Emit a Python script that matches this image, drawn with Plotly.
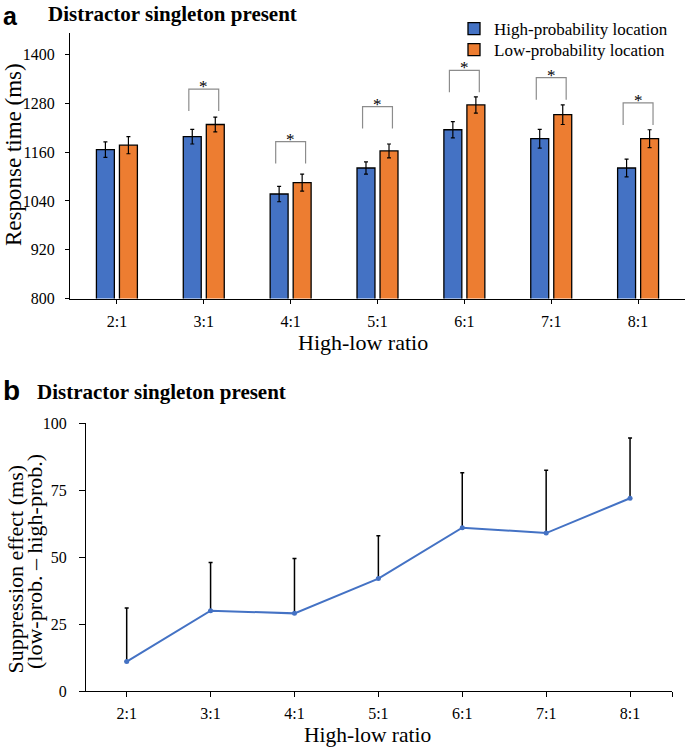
import plotly.graph_objects as go

# ---------------- data ----------------
ratios = ["2:1", "3:1", "4:1", "5:1", "6:1", "7:1", "8:1"]
rt_high = [1166, 1198, 1057, 1121, 1215, 1193, 1121]
rt_high_err = [19, 18, 19, 15, 20, 23, 22]
rt_low = [1177, 1228, 1085, 1163, 1276, 1252, 1193]
rt_low_err = [21, 18, 21, 17, 20, 24, 22]
sig_bracket_top = [None, 1315, 1186, 1272, 1361, 1343, 1281]
suppression = [11, 30, 29, 42, 61, 59, 72]
suppression_err = [20, 18, 20.5, 16, 20.5, 23.5, 22.5]

SERIF = "Liberation Serif, Times New Roman, serif"
SANS = "Liberation Sans, Arial, sans-serif"
BLUE = "#4472C4"
ORANGE = "#ED7D31"
W, H = 685, 749

idx = list(range(len(ratios)))


def px_x(p):
    return p / W


def px_y(p):
    return (H - p) / H


fig = go.Figure()

# ---------------- panel a: bars ----------------
fig.add_trace(go.Bar(
    x=idx, y=rt_high, name="High-probability location", legend="legend",
    marker=dict(color=BLUE, line=dict(color="black", width=1.3)),
    error_y=dict(type="data", array=rt_high_err, color="black", thickness=1.2, width=2),
    xaxis="x", yaxis="y",
))
fig.add_trace(go.Bar(
    x=idx, y=rt_low, name="Low-probability location", legend="legend2",
    marker=dict(color=ORANGE, line=dict(color="black", width=1.3)),
    error_y=dict(type="data", array=rt_low_err, color="black", thickness=1.2, width=2),
    xaxis="x", yaxis="y",
))

# significance brackets
LEG = 54
HALF = 0.172
bx, by = [], []
for i, top in enumerate(sig_bracket_top):
    if top is None:
        continue
    bx += [i - HALF, i - HALF, i + HALF, i + HALF, None]
    by += [top - LEG, top, top, top - LEG, None]
fig.add_trace(go.Scatter(
    x=bx, y=by, mode="lines", line=dict(color="#8c8c8c", width=1.2),
    showlegend=False, hoverinfo="skip", xaxis="x", yaxis="y",
))

annotations = []
for i, top in enumerate(sig_bracket_top):
    if top is None:
        continue
    annotations.append(dict(
        x=i, y=top, xref="x", yref="y", text="*", showarrow=False,
        yanchor="bottom", yshift=-9, font=dict(family=SERIF, size=17, color="black"),
    ))

# ---------------- panel b: line ----------------
fig.add_trace(go.Scatter(
    x=idx, y=suppression, mode="lines+markers",
    line=dict(color=BLUE, width=2), marker=dict(color=BLUE, size=5),
    error_y=dict(type="data", symmetric=False, array=suppression_err,
                 arrayminus=[0] * len(suppression), color="black", thickness=1.5, width=2),
    showlegend=False, xaxis="x2", yaxis="y2",
))

tickfont = dict(family=SERIF, size=16, color="black")
legfont = dict(family=SERIF, size=17, color="black")

fig.update_layout(
    width=W, height=H,
    margin=dict(l=0, r=0, t=0, b=0, autoexpand=False),
    paper_bgcolor="white", plot_bgcolor="white",
    barmode="group", bargap=0.47, bargroupgap=0.22,
    font=dict(family=SERIF, color="black"),
    showlegend=True,
    legend=dict(
        x=px_x(454), y=px_y(11), xanchor="left", yanchor="top",
        font=legfont, bgcolor="rgba(0,0,0,0)",
    ),
    legend2=dict(
        x=px_x(454), y=px_y(32), xanchor="left", yanchor="top",
        font=legfont, bgcolor="rgba(0,0,0,0)",
    ),
    xaxis=dict(
        domain=[px_x(70), 1.0], range=[-0.54, 6.54], automargin=False,
        tickmode="array", tickvals=idx, ticktext=ratios,
        showline=True, linecolor="black", linewidth=1,
        ticks="outside", ticklen=4, tickcolor="black",
        ticklabelstandoff=4, tickfont=tickfont,
        showgrid=False, zeroline=False, fixedrange=True,
    ),
    yaxis=dict(
        domain=[px_y(298.5), px_y(33)], range=[800, 1453], automargin=False,
        tickmode="array", tickvals=[800, 920, 1040, 1160, 1280, 1400],
        showline=True, linecolor="black", linewidth=1,
        ticks="outside", ticklen=4, tickcolor="black",
        ticklabelstandoff=7, tickfont=tickfont,
        showgrid=False, zeroline=False, fixedrange=True,
    ),
    xaxis2=dict(
        domain=[px_x(86), px_x(672)], range=[-0.485, 6.5], automargin=False,
        tickmode="array", tickvals=idx + [6.5], ticktext=ratios + [""],
        showline=True, linecolor="black", linewidth=1,
        ticks="outside", ticklen=5, tickcolor="black",
        ticklabelstandoff=3, tickfont=tickfont,
        showgrid=False, zeroline=False, anchor="y2", fixedrange=True,
    ),
    yaxis2=dict(
        domain=[px_y(691), px_y(423.3)], range=[0, 100], automargin=False,
        tickmode="array", tickvals=[0, 25, 50, 75, 100],
        showline=True, linecolor="black", linewidth=1,
        ticks="outside", ticklen=6, tickcolor="black",
        ticklabelstandoff=9, tickfont=tickfont,
        showgrid=False, zeroline=False, anchor="x2", fixedrange=True,
    ),
)


def ann(text, x, y, size, family=SERIF, bold=False, angle=0, xanchor="left", yanchor="middle"):
    t = f"<b>{text}</b>" if bold else text
    annotations.append(dict(
        text=t, x=px_x(x), y=px_y(y), xref="paper", yref="paper",
        xanchor=xanchor, yanchor=yanchor, showarrow=False, textangle=angle,
        font=dict(family=family, size=size, color="black"),
    ))


ann("a", 1, 0, 25, family=SANS, bold=True, yanchor="top")
ann("Distractor singleton present", 46, 0, 21, bold=True, yanchor="top")
ann("b", 1, 390, 28, family=SANS, bold=True)
ann("Distractor singleton present", 35, 392, 21, bold=True)
ann("Response time (ms)", 13, 155, 23, angle=-90, xanchor="center")
ann("High-low ratio", 363, 342, 22, xanchor="center")
ann("Suppression effect (ms)", 0, 569, 22, angle=-90, xanchor="left")
ann("(low-prob. \u2013 high-prob.)", 34, 562, 22, angle=-90, xanchor="center")
ann("High-low ratio", 367, 735, 21.5, xanchor="center")

fig.update_layout(annotations=annotations)

fig.write_html("out.html", config={"displayModeBar": False},
               post_script="document.body.style.margin='0';")
